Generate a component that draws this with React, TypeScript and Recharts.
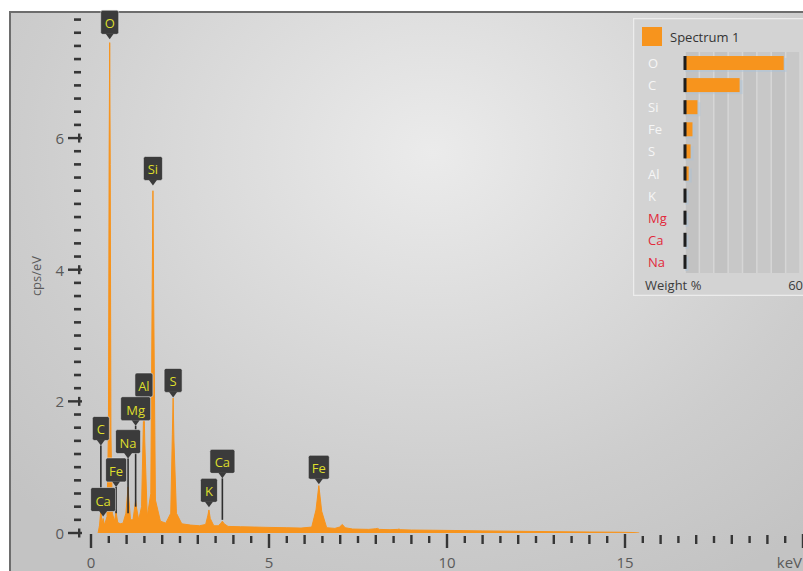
import React from 'react';
import {
  ComposedChart,
  Area,
  XAxis,
  YAxis,
  ReferenceDot,
  ReferenceLine,
  BarChart,
  Bar,
  CartesianGrid,
} from 'recharts';

// spectrum (keV vs cps/eV)
const energyKeV = [
  0.2, 0.24, 0.277, 0.31, 0.341, 0.38, 0.45, 0.49, 0.51, 0.525, 0.54, 0.56, 0.6, 0.66, 0.705, 0.75,
  0.82, 0.9, 0.98, 1.02, 1.041, 1.065, 1.11, 1.18, 1.23, 1.254, 1.28, 1.34, 1.42, 1.465, 1.486, 1.51,
  1.58, 1.68, 1.72, 1.74, 1.76, 1.81, 1.95, 2.1, 2.24, 2.285, 2.307, 2.33, 2.4, 2.55, 2.8, 3.05, 3.22,
  3.28, 3.313, 3.35, 3.45, 3.58, 3.65, 3.69, 3.74, 3.85, 4.2, 4.6, 5.0, 5.5, 5.9, 6.2, 6.32, 6.4, 6.48,
  6.62, 6.85, 6.98, 7.06, 7.14, 7.35, 7.8, 8.0, 8.05, 8.1, 8.4, 8.62, 8.65, 8.7, 9.0, 9.6, 10.2, 11.0,
  12.0, 13.0, 14.0, 14.8, 15.2, 15.4,
];
const cpsPerEv = [
  0, 0.12, 0.35, 0.14, 0.22, 0.12, 0.25, 1.6, 5.8, 7.45, 5.6, 1.5, 0.3, 0.18, 0.32, 0.16,
  0.14, 0.15, 0.3, 0.55, 0.7, 0.5, 0.2, 0.2, 0.4, 0.5, 0.38, 0.2, 0.4, 1.5, 2.05, 1.4,
  0.25, 0.6, 3.8, 5.2, 3.6, 0.5, 0.18, 0.15, 0.3, 1.5, 2.05, 1.4, 0.3, 0.14, 0.12, 0.11, 0.13,
  0.26, 0.35, 0.22, 0.11, 0.11, 0.15, 0.18, 0.14, 0.1, 0.095, 0.09, 0.085, 0.08, 0.075, 0.09, 0.35, 0.72, 0.33,
  0.08, 0.07, 0.09, 0.13, 0.08, 0.06, 0.055, 0.065, 0.07, 0.055, 0.05, 0.055, 0.06, 0.05, 0.045, 0.042, 0.038, 0.032,
  0.026, 0.02, 0.015, 0.012, 0.008, 0,
];

// peak tags: element, line energy, pointer tip height, end of the stem (if any)
const tagNames = ['O', 'Si', 'S', 'Al', 'Mg', 'Na', 'C', 'Fe', 'Ca', 'K', 'Ca', 'Fe'];
const tagEnergies = [0.525, 1.74, 2.307, 1.486, 1.254, 1.041, 0.277, 0.705, 0.341, 3.313, 3.69, 6.4];
const tagTips = [7.5, 5.28, 2.06, 1.99, 1.63, 1.13, 1.33, 0.7, 0.25, 0.39, 0.83, 0.74];
const tagStemEnds = [null, null, null, null, 0.4, 0.3, 0.35, 0.3, null, null, 0.2, null];

const xTickLabels = [0, 5, 10, 15];
const xUnitLabel = 'keV';
const yTickLabels = [0, 2, 4, 6];
const yAxisTitle = 'cps/eV';

// weight % inset
const elementNames = ['O', 'C', 'Si', 'Fe', 'S', 'Al', 'K', 'Mg', 'Ca', 'Na'];
const weightPercent = [51.5, 28.5, 6.5, 3.9, 2.9, 1.9, 0.3, 0.2, 0.2, 0.2];
const flaggedElements = ['Mg', 'Ca', 'Na'];
const spectrumName = 'Spectrum 1';
const weightAxisTitle = 'Weight %';
const weightAxisMax = 60;

const ORANGE = '#f7941d';
const FONT = '"Open Sans", "Noto Sans", sans-serif';

const spectrum = energyKeV.map((e, i) => ({ keV: e, cps: cpsPerEv[i] }));
const weights = elementNames.map((name, i) => ({ name, pct: weightPercent[i] }));

const xTicks = Array.from({ length: 41 }, (_, i) => i / 2);
const yTicks = Array.from({ length: 40 }, (_, i) => Math.round(i * 2) / 10);
const weightTicks = Array.from({ length: 9 }, (_, i) => (i * weightAxisMax) / 8);

const tagWidths: Record<string, number> = {
  O: 18, Si: 19, S: 18, Al: 18, Mg: 30, Na: 25, C: 17, Fe: 21, Ca: 25, K: 17,
};

const PeakTag = ({ cx, cy, label }: { cx: number; cy: number; label: string }) => {
  const w = tagWidths[label] || 20;
  const h = 24;
  const top = cy - 5 - h;
  return (
    <g>
      <rect x={cx - w / 2} y={top} width={w} height={h} rx={2} fill="#3b3b3b" stroke="#e6e6e6" strokeOpacity={0.55} strokeWidth={1} />
      <polygon points={`${cx - 4},${cy - 5.5} ${cx + 4},${cy - 5.5} ${cx},${cy}`} fill="#3b3b3b" />
      <text x={cx} y={top + h / 2 + 1} textAnchor="middle" dominantBaseline="central" fontSize={13} fontFamily={FONT} fill="#dede2c">
        {label}
      </text>
    </g>
  );
};

const XTick = (props: any) => {
  const { x, payload } = props;
  const v = payload.value as number;
  const isLabelled = xTickLabels.includes(v) || v === 20;
  const isInt = Number.isInteger(v);
  const isUnit = v === 20;
  const label = isUnit ? xUnitLabel : xTickLabels.includes(v) ? String(v) : null;
  return (
    <g>
      <rect
        x={x - 1.2}
        y={isLabelled ? 534 : isInt ? 535 : 536}
        width={2.4}
        height={isLabelled ? 14 : isInt ? 9 : 7}
        fill="#363636"
      />
      {label && (
        <text
          x={isUnit ? x - 1 : x}
          y={562}
          textAnchor={isUnit ? 'end' : 'middle'}
          dominantBaseline="central"
          fontSize={15}
          fontFamily={FONT}
          fill="#5a5a5a"
        >
          {label}
        </text>
      )}
    </g>
  );
};

const YTick = (props: any) => {
  const { y, payload } = props;
  const v = payload.value as number;
  const isMajor = yTickLabels.includes(v);
  return (
    <g fill="#363636">
      {isMajor ? (
        <>
          <rect x={68} y={y - 1.2} width={14} height={2.4} />
          <rect x={78} y={y - 4.5} width={2.4} height={9} />
          <text x={64} y={y} textAnchor="end" dominantBaseline="central" fontSize={15} fontFamily={FONT} fill="#5a5a5a">
            {v}
          </text>
        </>
      ) : (
        <rect x={74} y={y - 1.3} width={7} height={2.6} />
      )}
    </g>
  );
};

const ElementTick = (props: any) => {
  const { y, payload } = props;
  const name = payload.value as string;
  return (
    <text x={15} y={y} dominantBaseline="central" fontSize={13} fontFamily={FONT} fill={flaggedElements.includes(name) ? '#e2283a' : '#f6f6f6'}>
      {name}
    </text>
  );
};

const WeightTick = (props: any) => {
  const { x, payload } = props;
  if (payload.value !== weightAxisMax) return <g />;
  return (
    <text x={x + 3} y={267} textAnchor="end" dominantBaseline="central" fontSize={13} fontFamily={FONT} fill="#3c3c3c">
      {payload.value}
    </text>
  );
};

const BarWithMarker = (p: any) => (
  <g>
    <rect x={p.x} y={p.y + 2} width={Math.max(0, p.width) + 3} height={p.height} fill="#a8c4dc" opacity={0.45} />
    <rect x={p.x} y={p.y} width={Math.max(0, p.width)} height={p.height} fill={ORANGE} />
    <rect x={p.x - 1.5} y={p.y} width={3} height={p.height} fill="#1d1d1d" />
  </g>
);

const WeightInset = () => (
  <div style={{ position: 'absolute', left: 633, top: 18, width: 172, height: 278 }}>
    <svg width={172} height={278} style={{ position: 'absolute', left: 0, top: 0 }}>
      <rect x={0.5} y={0.5} width={171} height={277} fill="#d3d3d3" stroke="#ececec" strokeWidth={1.5} />
      <rect x={9} y={9} width={20} height={19} fill={ORANGE} />
      <text x={37} y={19} dominantBaseline="central" fontSize={13} fontFamily={FONT} fill="#333">
        {spectrumName}
      </text>
      <text x={12} y={267} dominantBaseline="central" fontSize={13} fontFamily={FONT} fill="#3c3c3c">
        {weightAxisTitle}
      </text>
    </svg>
    <div style={{ position: 'absolute', left: 0, top: 0 }}>
      <BarChart width={172} height={278} layout="vertical" data={weights} margin={{ top: 34, right: 5, bottom: 0, left: 0 }}>
        <CartesianGrid horizontal={false} verticalFill={['#c2c2c2', '#c8c8c8']} stroke="#d6d6d6" strokeWidth={1.5} />
        <XAxis type="number" domain={[0, weightAxisMax]} ticks={weightTicks} interval={0} tick={<WeightTick />} tickLine={false} axisLine={false} height={23} />
        <YAxis type="category" dataKey="name" width={52} tick={<ElementTick />} tickLine={false} axisLine={false} interval={0} />
        <Bar dataKey="pct" barSize={14} fill={ORANGE} shape={<BarWithMarker />} isAnimationActive={false} />
      </BarChart>
    </div>
  </div>
);

export default function App() {
  return (
    <div style={{ position: 'fixed', left: 0, top: 0, width: 803, height: 571, overflow: 'hidden', background: '#fff' }}>
      <div
        style={{
          position: 'absolute',
          left: 9,
          top: 11,
          width: 810,
          height: 580,
          borderLeft: '2px solid #6d6d6d',
          borderTop: '2px solid #6d6d6d',
          background: 'radial-gradient(ellipse 72% 85% at 52% 24%, #ebebeb 0%, #dcdcdc 35%, #cdcdcd 70%, #c3c3c3 100%)',
        }}
      />
      <svg width={60} height={571} style={{ position: 'absolute', left: 0, top: 0 }}>
        <text x={36} y={276} transform="rotate(-90 36 276)" textAnchor="middle" dominantBaseline="central" fontSize={13} fontFamily={FONT} fill="#5a5a5a">
          {yAxisTitle}
        </text>
      </svg>
      <div style={{ position: 'absolute', left: 0, top: 0 }}>
        <ComposedChart width={803} height={571} data={spectrum} margin={{ top: 13, right: 0, bottom: 0, left: 0 }}>
          <XAxis type="number" dataKey="keV" domain={[0, 20]} ticks={xTicks} interval={0} tick={<XTick />} tickLine={false} axisLine={false} height={38} allowDataOverflow />
          <YAxis type="number" domain={[0, 7.9]} ticks={yTicks} interval={0} tick={<YTick />} tickLine={false} axisLine={false} width={91} allowDataOverflow />
          <Area type="linear" dataKey="cps" stroke={ORANGE} strokeWidth={1} fill={ORANGE} fillOpacity={1} dot={false} activeDot={false} isAnimationActive={false} />
          {tagNames.map((name, i) =>
            tagStemEnds[i] == null ? null : (
              <ReferenceLine
                key={`stem-${i}`}
                segment={[
                  { x: tagEnergies[i], y: tagStemEnds[i] as number },
                  { x: tagEnergies[i], y: tagTips[i] },
                ]}
                stroke="#2e2e2e"
                strokeWidth={1.6}
              />
            ),
          )}
          {tagNames.map((name, i) => (
            <ReferenceDot
              key={`tag-${i}`}
              x={tagEnergies[i]}
              y={tagTips[i]}
              r={3}
              shape={(p: any) => <PeakTag cx={p.cx} cy={p.cy} label={name} />}
            />
          ))}
        </ComposedChart>
      </div>
      <WeightInset />
    </div>
  );
}
